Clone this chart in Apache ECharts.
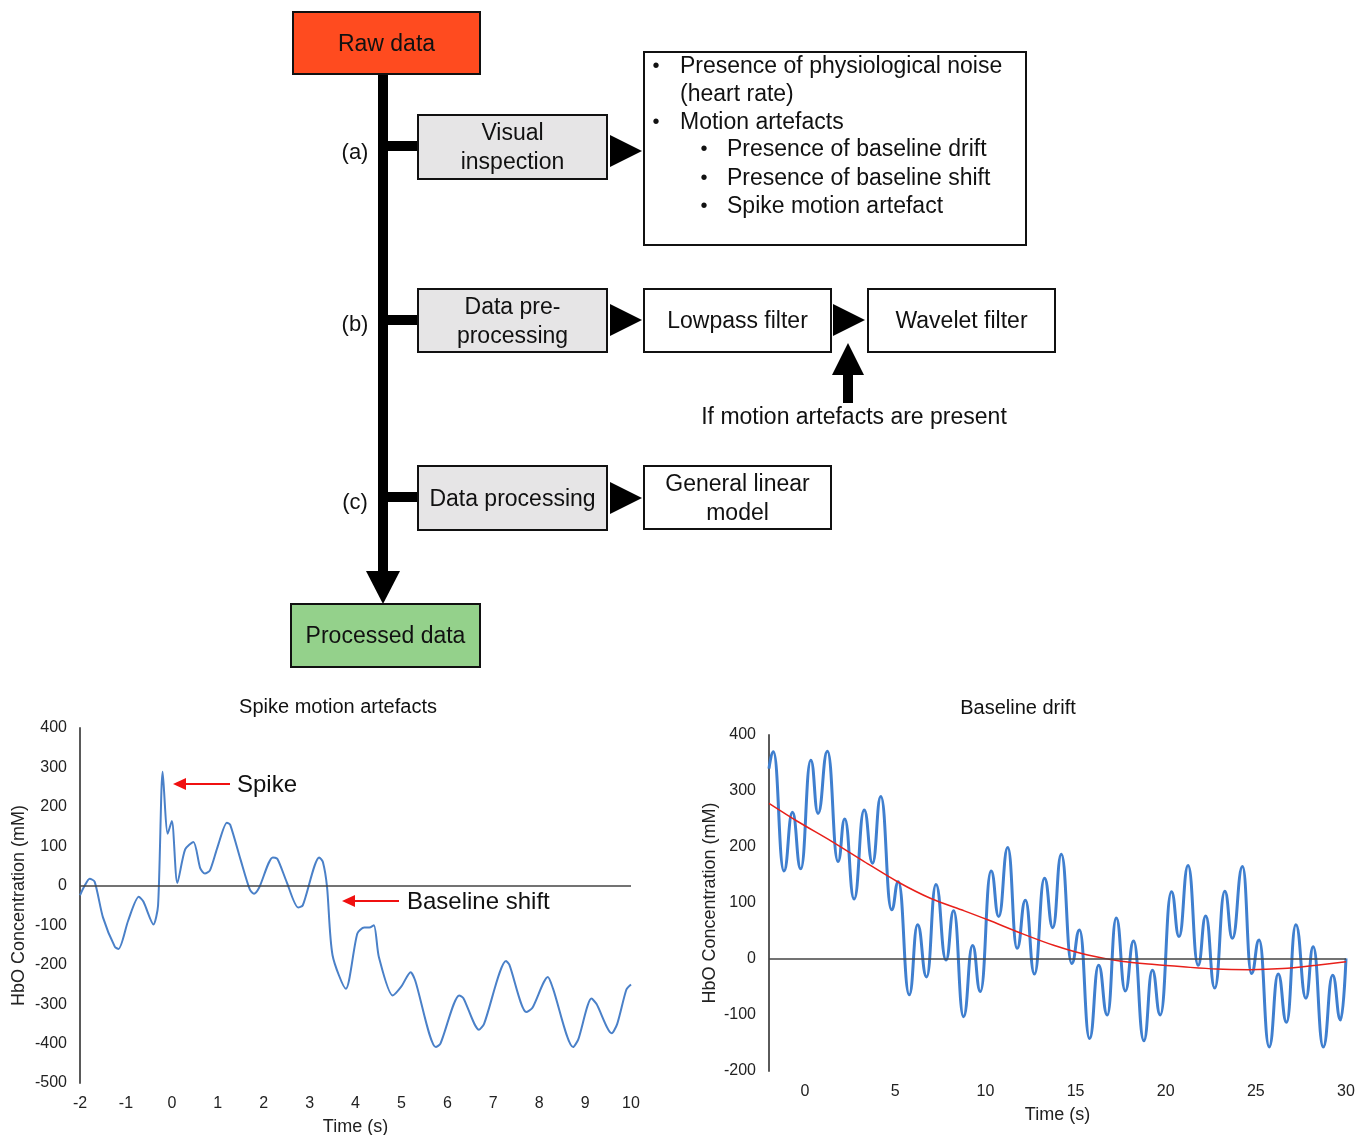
<!DOCTYPE html>
<html>
<head>
<meta charset="utf-8">
<script src="https://cdn.jsdelivr.net/npm/echarts@6/dist/echarts.min.js"></script>
<style>
html, body { margin: 0; padding: 0; background: #fff; }
#chart { width: 1368px; height: 1135px; }
</style>
</head>
<body>
<div id="chart"></div>
<script>
// spike motion artefacts panel (time in s, HbO in mM)
var spikeTime = [-2.0, -1.9, -1.79, -1.68, -1.5, -1.24, -1.16, -0.95, -0.72, -0.62, -0.4, -0.3, -0.2, -0.09, 0.0, 0.12, 0.29, 0.47, 0.62, 0.72, 0.83, 1.0, 1.2, 1.27, 1.5, 1.7, 1.79, 1.9, 2.2, 2.3, 2.5, 2.75, 2.85, 3.21, 3.29, 3.38, 3.5, 3.79, 4.04, 4.19, 4.3, 4.4, 4.51, 4.81, 5.0, 5.2, 5.3, 5.75, 5.85, 6.26, 6.35, 6.69, 6.8, 7.28, 7.35, 7.72, 7.85, 8.19, 8.3, 8.74, 8.85, 9.14, 9.25, 9.58, 9.7, 9.9, 10.0];
var spikeHbo = [-24, 0, 18, 10, -80, -155, -160, -88, -28, -40, -98, -50, 289, 132, 164, 7, 92, 111, 44, 31, 39, 100, 160, 155, 65, -10, -20, -5, 72, 68, 10, -55, -50, 72, 60, -3, -176, -261, -121, -106, -106, -100, -181, -278, -255, -219, -240, -409, -400, -278, -285, -365, -350, -191, -200, -320, -310, -231, -260, -409, -390, -286, -300, -374, -350, -263, -250];

// baseline drift panel: peaks and troughs of the signal
var driftTime = [-2.0, -1.76, -1.17, -0.70, -0.24, 0.32, 0.72, 1.24, 1.83, 2.20, 2.72, 3.28, 3.74, 4.20, 4.80, 5.17, 5.78, 6.24, 6.74, 7.26, 7.82, 8.24, 8.79, 9.29, 9.72, 10.32, 10.74, 11.24, 11.76, 12.22, 12.72, 13.28, 13.74, 14.21, 14.79, 15.22, 15.78, 16.28, 16.76, 17.26, 17.76, 18.22, 18.79, 19.26, 19.7, 20.32, 20.74, 21.24, 21.8, 22.22, 22.72, 23.28, 23.7, 24.26, 24.76, 25.18, 25.74, 26.24, 26.7, 27.22, 27.78, 28.18, 28.74, 29.26, 29.7, 30.0];
var driftHbo = [340, 370, 157, 262, 161, 355, 260, 371, 174, 250, 107, 266, 171, 290, 88, 138, -64, 61, -32, 133, -2, 86, -103, 24, -58, 157, 76, 199, 19, 105, -27, 144, 56, 187, -8, 52, -142, -11, -100, 73, -57, 32, -146, -20, -100, 120, 40, 167, -11, 77, -52, 121, 37, 165, -26, 34, -157, -27, -113, 61, -70, 22, -157, -29, -109, 1];

// red drift trend line
var trendTime = [-2, -0.43, 1.43, 3.28, 5.13, 6.98, 8.83, 10.13, 11.98, 13.83, 15.68, 17.53, 19.38, 20.96, 22.8, 24.65, 26.5, 28.37, 30];
var trendHbo = [278, 246, 211, 174, 138, 108, 86, 70, 46, 24, 7, -4, -10, -14, -18, -19, -17, -11, -5];

var driftTicks = [0, 5, 10, 15, 20, 25, 30];

var FONT = '"Liberation Sans", Arial, Helvetica, sans-serif';

function pairs(xs, ys) {
    return xs.map(function (x, i) { return [x, ys[i]]; });
}

function txt(x, y, s, size, align) {
    return {
        type: 'text', x: x, y: y + 1.5, silent: true,
        style: {
            text: s, font: size + 'px ' + FONT, fill: '#111',
            align: align || 'center', verticalAlign: 'middle',
            textAlign: align || 'center', textVerticalAlign: 'middle',
            lineHeight: 29
        }
    };
}

function box(x, y, w, h, fill, label) {
    return [
        { type: 'rect', shape: { x: x, y: y, width: w, height: h }, style: { fill: fill, stroke: '#111', lineWidth: 2 } },
        txt(x + w / 2, y + h / 2, label, 23)
    ];
}

function bar(x, y, w, h) {
    return { type: 'rect', shape: { x: x, y: y, width: w, height: h }, style: { fill: '#000' } };
}

function tri(pts) {
    return { type: 'polygon', shape: { points: pts }, style: { fill: '#000' } };
}

function redArrow(x0, x1, y) {
    return [
        { type: 'line', shape: { x1: x0, y1: y, x2: x1 + 10, y2: y }, style: { stroke: '#f01010', lineWidth: 2 } },
        { type: 'polygon', shape: { points: [[x1, y], [x1 + 13, y - 6], [x1 + 13, y + 6]] }, style: { fill: '#f01010' } }
    ];
}

var flow = [].concat(
    // trunk and branches
    bar(378, 73, 10, 500),
    tri([[366, 571], [400, 571], [383, 604]]),
    bar(383, 141, 35, 10),
    bar(383, 315, 35, 10),
    bar(383, 492, 35, 10),
    txt(355, 151, '(a)', 22),
    txt(355, 323, '(b)', 22),
    txt(355, 501, '(c)', 22),
    box(293, 12, 187, 62, '#ff4b1f', 'Raw data'),
    box(291, 604, 189, 63, '#94d18b', 'Processed data'),
    box(418, 115, 189, 64, '#e6e5e6', 'Visual\ninspection'),
    box(418, 289, 189, 63, '#e6e5e6', 'Data pre-\nprocessing'),
    box(418, 466, 189, 64, '#e6e5e6', 'Data processing'),
    box(644, 289, 187, 63, '#fff', 'Lowpass filter'),
    box(868, 289, 187, 63, '#fff', 'Wavelet filter'),
    box(644, 466, 187, 63, '#fff', 'General linear\nmodel'),
    tri([[610, 135], [642, 151], [610, 167]]),
    tri([[610, 304], [642, 320], [610, 336]]),
    tri([[833, 304], [865, 320], [833, 336]]),
    tri([[610, 482], [642, 498], [610, 514]]),
    tri([[848, 343], [864, 375], [832, 375]]),
    bar(843, 374, 10, 29),
    txt(854, 416, 'If motion artefacts are present', 23),
    // findings box
    { type: 'rect', shape: { x: 644, y: 52, width: 382, height: 193 }, style: { fill: '#fff', stroke: '#111', lineWidth: 2 } },
    txt(656, 65, '\u2022', 20), txt(680, 65, 'Presence of physiological noise', 23, 'left'),
    txt(680, 93, '(heart rate)', 23, 'left'),
    txt(656, 121, '\u2022', 20), txt(680, 121, 'Motion artefacts', 23, 'left'),
    txt(704, 148, '\u2022', 20), txt(727, 148, 'Presence of baseline drift', 23, 'left'),
    txt(704, 177, '\u2022', 20), txt(727, 177, 'Presence of baseline shift', 23, 'left'),
    txt(704, 205, '\u2022', 20), txt(727, 205, 'Spike motion artefact', 23, 'left'),
    // chart titles and notes
    txt(338, 706, 'Spike motion artefacts', 20),
    txt(1018, 707, 'Baseline drift', 20),
    redArrow(230, 173, 784),
    txt(237, 784, 'Spike', 24, 'left'),
    redArrow(399, 342, 901),
    txt(407, 901, 'Baseline shift', 24, 'left')
);

var axisLabel = { color: '#222', fontSize: 16, fontFamily: FONT, margin: 13 };
var nameStyle = { color: '#222', fontSize: 18, fontFamily: FONT };

function yAxis(idx, min, max) {
    return {
        type: 'value', gridIndex: idx, min: min, max: max, interval: 100,
        name: 'HbO Concentration (mM)', nameLocation: 'middle', nameGap: idx === 0 ? 52 : 50,
        nameTextStyle: nameStyle,
        axisLine: { show: true, onZero: false, lineStyle: { color: '#5a5a5a', width: 2 } },
        axisTick: { show: false }, splitLine: { show: false },
        axisLabel: axisLabel
    };
}

var zeroLine = {
    silent: true, symbol: ['none', 'none'], label: { show: false },
    lineStyle: { color: '#444', width: 1.5, type: 'solid' },
    emphasis: { disabled: true },
    data: [{ yAxis: 0 }]
};

var chart = echarts.init(document.getElementById('chart'));

chart.setOption({
    animation: false,
    backgroundColor: '#fff',
    graphic: { elements: flow },
    grid: [
        { left: 80, top: 728, width: 551, height: 355, outerBoundsMode: 'none', containLabel: false },
        { left: 769, top: 735, width: 577, height: 336, outerBoundsMode: 'none', containLabel: false }
    ],
    xAxis: [
        {
            type: 'value', gridIndex: 0, min: -2, max: 10, interval: 1,
            name: 'Time (s)', nameLocation: 'middle', nameGap: 35, nameTextStyle: nameStyle,
            axisLine: { show: false, onZero: false }, axisTick: { show: false }, splitLine: { show: false },
            axisLabel: axisLabel
        },
        {
            type: 'value', gridIndex: 1, min: -2, max: 30,
            name: 'Time (s)', nameLocation: 'middle', nameGap: 35, nameTextStyle: nameStyle,
            axisLine: { show: false, onZero: false }, axisTick: { show: false }, splitLine: { show: false },
            axisLabel: Object.assign({ customValues: driftTicks }, axisLabel)
        }
    ],
    yAxis: [yAxis(0, -500, 400), yAxis(1, -200, 400)],
    series: [
        {
            type: 'line', xAxisIndex: 0, yAxisIndex: 0, data: pairs(spikeTime, spikeHbo),
            showSymbol: false, smooth: 0.25, silent: true,
            lineStyle: { color: '#4a80c8', width: 2 },
            markLine: zeroLine
        },
        {
            type: 'line', xAxisIndex: 1, yAxisIndex: 1, data: pairs(driftTime, driftHbo),
            showSymbol: false, smooth: 0.5, smoothMonotone: 'x', silent: true,
            lineStyle: { color: '#3f7fcf', width: 3 },
            markLine: zeroLine
        },
        {
            type: 'line', xAxisIndex: 1, yAxisIndex: 1, data: pairs(trendTime, trendHbo),
            showSymbol: false, smooth: 0.3, silent: true, z: 3,
            lineStyle: { color: '#e8201a', width: 1.5 }
        }
    ]
});
</script>
</body>
</html>
